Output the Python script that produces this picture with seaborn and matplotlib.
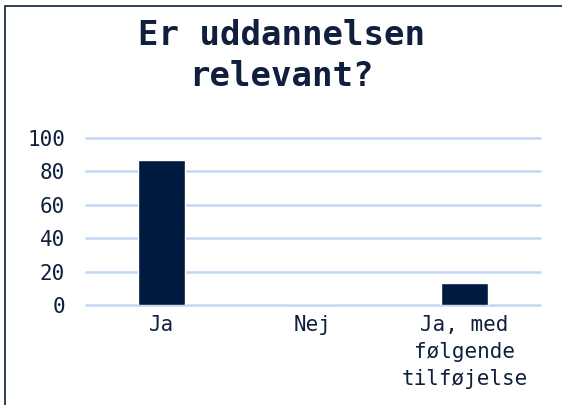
import matplotlib.pyplot as plt
import pandas as pd
import seaborn as sns
from matplotlib.patches import Rectangle

categories = ["Ja", "Nej", "Ja, med\nfølgende\ntilføjelse"]
values = [86.7, 0.0, 13.3]
yticks = [0, 20, 40, 60, 80, 100]

NAVY = "#001a40"
TEXT = "#0f1f3d"
GRID = "#c2d7f5"

sns.set_theme(style="white")
plt.rcParams["font.family"] = ["DejaVu Sans Mono", "DejaVu Sans"]

df = pd.DataFrame({"svar": categories, "andel": values})

fig = plt.figure(figsize=(5.62, 4.05), dpi=100)
ax = fig.add_axes([0.153, 0.247, 0.808, 0.412])

sns.barplot(data=df, x="svar", y="andel", color=NAVY, width=0.31,
            saturation=1, ax=ax)

ax.set_ylim(0, 100)
ax.set_yticks(yticks)
ax.set_yticklabels([str(t) for t in yticks], fontsize=15, color=TEXT)
ax.set_xticklabels(categories, fontsize=15, color=TEXT, linespacing=1.45)
ax.tick_params(axis="x", length=0, pad=7)
ax.tick_params(axis="y", length=0, pad=15)
ax.set_xlabel("")
ax.set_ylabel("")
ax.yaxis.grid(True, color=GRID, linewidth=1.8)
ax.set_axisbelow(True)
for line in ax.get_ygridlines():
    line.set_clip_on(False)
for s in ax.spines.values():
    s.set_visible(False)

fig.text(0.5, 0.862, "Er uddannelsen\nrelevant?", ha="center", va="center",
         fontsize=24.5, fontweight="bold", color=TEXT, linespacing=1.3)

# frame around the chart, partly cut off at right and bottom
fig.patches.append(Rectangle((5 / 562, -0.1), 1.2, 1.1 - 6 / 405,
                             transform=fig.transFigure, fill=False,
                             edgecolor=TEXT, linewidth=1.2))

fig.savefig("out.png", dpi=100)
